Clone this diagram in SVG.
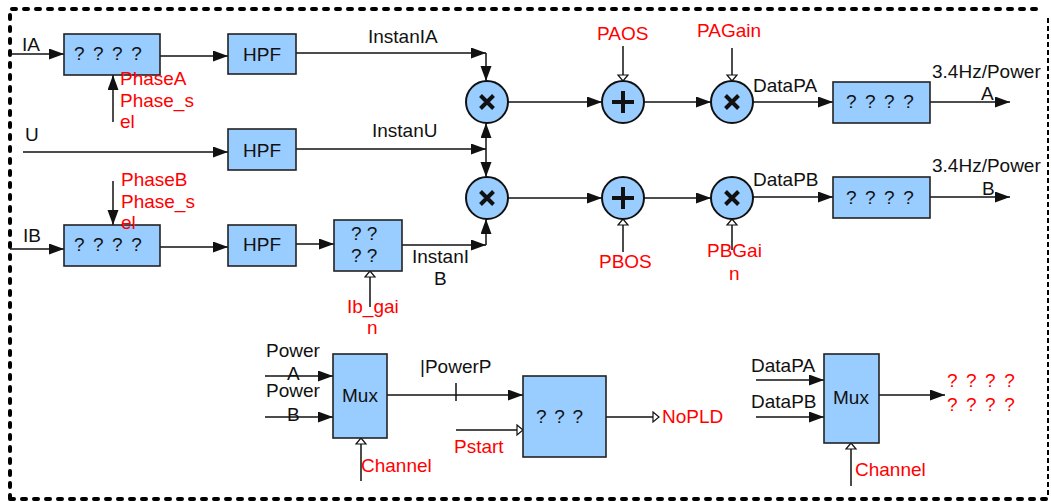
<svg xmlns="http://www.w3.org/2000/svg" width="1051" height="502" viewBox="0 0 1051 502">
<style>
text{font-family:"Liberation Sans",Arial,sans-serif;font-size:19px;fill:#111}
.r{fill:#ff0000}
.box{fill:#99ccff;stroke:#222;stroke-width:1.6}
.op{fill:#99ccff;stroke:#111;stroke-width:2}
.sym{stroke:#111;stroke-width:4;fill:none}
.w{stroke:#111;stroke-width:1.5;fill:none}
.a{marker-end:url(#ah)}
.h{marker-end:url(#hh)}
.q{letter-spacing:1.6px}
</style>
<defs>
<marker id="ah" markerUnits="userSpaceOnUse" markerWidth="16" markerHeight="12" refX="15" refY="5.5" orient="auto">
<path d="M0,0 L15,5.5 L0,11 z" fill="#111"/>
</marker>
<marker id="hh" markerUnits="userSpaceOnUse" markerWidth="9" markerHeight="13" refX="7" refY="6" orient="auto">
<path d="M1,1 L7,6 L1,11 z" fill="#fff" stroke="#111" stroke-width="1.2"/>
</marker>
</defs>
<g id="frame">
<path d="M10,499 L10,9 L1044,9 M10,499 L1046,499" fill="none" stroke="#000" stroke-width="4" stroke-linecap="round" stroke-dasharray="4 8"/>
<path d="M1048,18 L1048,497" fill="none" stroke="#000" stroke-width="2" stroke-dasharray="5 3"/>
</g>
<g id="connectors">
<path class="w a" d="M10,54 L64,54"/>
<path class="w a" d="M160,56 L228,56"/>
<path class="w a" d="M113,122 L113,75"/>
<path class="w a" d="M23,152 L228,152"/>
<path class="w a" d="M296,53 L486,53"/>
<path class="w a" d="M486,53 L486,81"/>
<path class="w a" d="M296,149 L486,149"/>
<path class="w a" d="M486,149 L486,123"/>
<path class="w a" d="M486,149 L486,177"/>
<path class="w a" d="M10,249 L64,249"/>
<path class="w a" d="M160,247 L228,247"/>
<path class="w a" d="M113,181 L113,225"/>
<path class="w a" d="M296,244 L334,244"/>
<path class="w a" d="M402,245 L486,245"/>
<path class="w a" d="M486,245 L486,219"/>
<path class="w h" d="M370,307 L370,271"/>
<path class="w a" d="M508,102 L602,102"/>
<path class="w a" d="M644,102 L711,102"/>
<path class="w a" d="M753,102 L833,102"/>
<path class="w a" d="M930,102 L1010,102"/>
<path class="w h" d="M623,46 L623,81"/>
<path class="w h" d="M732,48 L732,81"/>
<path class="w a" d="M508,198 L602,198"/>
<path class="w a" d="M644,198 L711,198"/>
<path class="w a" d="M753,197 L833,197"/>
<path class="w a" d="M930,197 L1010,197"/>
<path class="w h" d="M623,252 L623,219"/>
<path class="w h" d="M732,250 L732,219"/>
<path class="w a" d="M265,376 L333,376"/>
<path class="w a" d="M265,417 L333,417"/>
<path class="w h" d="M361,481 L361,438"/>
<path class="w a" d="M387,395 L523,395"/>
<path class="w" d="M456,383 L456,401"/>
<path class="w h" d="M456,430 L523,430"/>
<path class="w h" d="M606,417 L659,417"/>
<path class="w a" d="M756,380 L824,380"/>
<path class="w a" d="M756,417 L824,417"/>
<path class="w a" d="M879,395 L945,395"/>
<path class="w h" d="M851,486 L851,443"/>
</g>
<g id="selA"><rect class="box" x="64" y="34" width="96" height="41"/><text class="q" x="74" y="60">? ? ? ?</text></g>
<g id="hpfA"><rect class="box" x="228" y="34" width="68" height="40"/><text x="262" y="61" text-anchor="middle">HPF</text></g>
<g id="hpfU"><rect class="box" x="228" y="129" width="68" height="41"/><text x="262" y="157" text-anchor="middle">HPF</text></g>
<g id="selB"><rect class="box" x="64" y="225" width="96" height="41"/><text class="q" x="74" y="251">? ? ? ?</text></g>
<g id="hpfB"><rect class="box" x="228" y="225" width="68" height="41"/><text x="262" y="251" text-anchor="middle">HPF</text></g>
<g id="gainB"><rect class="box" x="334" y="220" width="68" height="51"/><text x="351" y="240">? ?</text><text x="351" y="262">? ?</text></g>
<g id="mulA"><circle class="op" cx="487" cy="102" r="21"/><path class="sym" d="M480.5,95.5 L493.5,108.5 M493.5,95.5 L480.5,108.5"/></g>
<g id="mulB"><circle class="op" cx="487" cy="198" r="21"/><path class="sym" d="M480.5,191.5 L493.5,204.5 M493.5,191.5 L480.5,204.5"/></g>
<g id="addA"><circle class="op" cx="623" cy="102" r="21"/><path class="sym" d="M612,102 L634,102 M623,91 L623,113"/></g>
<g id="addB"><circle class="op" cx="623" cy="198" r="21"/><path class="sym" d="M612,198 L634,198 M623,187 L623,209"/></g>
<g id="gmulA"><circle class="op" cx="732" cy="102" r="21"/><path class="sym" d="M725.5,95.5 L738.5,108.5 M738.5,95.5 L725.5,108.5"/></g>
<g id="gmulB"><circle class="op" cx="732" cy="198" r="21"/><path class="sym" d="M725.5,191.5 L738.5,204.5 M738.5,191.5 L725.5,204.5"/></g>
<g id="filtA"><rect class="box" x="833" y="82" width="97" height="41"/><text class="q" x="846" y="108">? ? ? ?</text></g>
<g id="filtB"><rect class="box" x="833" y="177" width="97" height="41"/><text class="q" x="846" y="204">? ? ? ?</text></g>
<g id="mux1"><rect class="box" x="333" y="354" width="54" height="84"/><text x="360" y="402" text-anchor="middle">Mux</text></g>
<g id="cmp"><rect class="box" x="523" y="376" width="83" height="81"/><text style="letter-spacing:1.2px" x="536" y="423">? ? ?</text></g>
<g id="mux2"><rect class="box" x="824" y="354" width="55" height="89"/><text x="851" y="404" text-anchor="middle">Mux</text></g>
<g id="labels">
<text x="22" y="51">IA</text>
<text x="25" y="141">U</text>
<text x="23" y="242">IB</text>
<text class="r" x="120" y="85">PhaseA</text>
<text class="r" x="120" y="107">Phase_s</text>
<text class="r" x="120" y="128">el</text>
<text class="r" x="121" y="186">PhaseB</text>
<text class="r" x="121" y="208">Phase_s</text>
<text class="r" x="121" y="229">el</text>
<text x="368" y="43">InstanIA</text>
<text x="372" y="137">InstanU</text>
<text x="412" y="263">InstanI</text>
<text x="434" y="285">B</text>
<text class="r" x="347" y="313">Ib_gai</text>
<text class="r" x="367" y="334">n</text>
<text class="r" x="597" y="40">PAOS</text>
<text class="r" x="697" y="37">PAGain</text>
<text class="r" x="599" y="268">PBOS</text>
<text class="r" x="707" y="257">PBGai</text>
<text class="r" x="729" y="280">n</text>
<text x="753" y="92">DataPA</text>
<text x="753" y="186">DataPB</text>
<text x="932" y="78">3.4Hz/Power</text>
<text x="981" y="100">A</text>
<text x="932" y="172">3.4Hz/Power</text>
<text x="982" y="195">B</text>
<text x="266" y="357">Power</text>
<text x="287" y="380">A</text>
<text x="266" y="397">Power</text>
<text x="287" y="421">B</text>
<text x="420" y="373">|PowerP</text>
<text class="r" x="454" y="453">Pstart</text>
<text class="r" x="361" y="472">Channel</text>
<text class="r" x="662" y="423">NoPLD</text>
<text x="751" y="372">DataPA</text>
<text x="751" y="408">DataPB</text>
<text class="r q" x="947" y="387">? ? ? ?</text>
<text class="r q" x="947" y="411">? ? ? ?</text>
<text class="r" x="855" y="476">Channel</text>
</g>
</svg>
